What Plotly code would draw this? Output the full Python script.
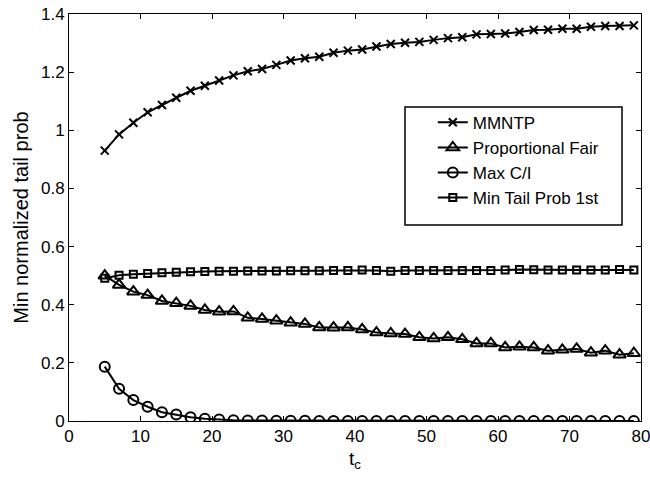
import plotly.graph_objects as go

t_c = list(range(5, 80, 2))

mmntp = [0.930, 0.986, 1.026, 1.062, 1.087, 1.112, 1.136, 1.153, 1.171, 1.189,
         1.203, 1.211, 1.225, 1.240, 1.248, 1.253, 1.267, 1.274, 1.278, 1.288,
         1.297, 1.301, 1.304, 1.311, 1.317, 1.320, 1.330, 1.331, 1.333, 1.338,
         1.345, 1.346, 1.349, 1.349, 1.356, 1.359, 1.359, 1.361]

prop_fair = [0.500, 0.468, 0.445, 0.433, 0.413, 0.405, 0.396, 0.382, 0.376, 0.377,
             0.355, 0.351, 0.345, 0.338, 0.334, 0.322, 0.321, 0.322, 0.315, 0.304,
             0.301, 0.299, 0.288, 0.284, 0.288, 0.281, 0.267, 0.267, 0.253, 0.255,
             0.253, 0.242, 0.245, 0.248, 0.235, 0.242, 0.228, 0.233]

max_ci = [0.187, 0.111, 0.072, 0.049, 0.030, 0.022, 0.013, 0.008, 0.005, 0.003,
          0.002, 0.002, 0.001, 0.001, 0.001, 0.0, 0.0, 0.0, 0.0, 0.0,
          0.0, 0.0, 0.0, 0.0, 0.0, 0.0, 0.0, 0.0, 0.0, 0.0,
          0.0, 0.0, 0.0, 0.0, 0.0, 0.0, 0.0, 0.0]

min_tail = [0.491, 0.501, 0.505, 0.507, 0.510, 0.512, 0.513, 0.514, 0.515, 0.515,
            0.516, 0.516, 0.516, 0.517, 0.517, 0.517, 0.518, 0.518, 0.519, 0.518,
            0.515, 0.518, 0.518, 0.518, 0.518, 0.518, 0.518, 0.518, 0.519, 0.521,
            0.520, 0.519, 0.519, 0.519, 0.519, 0.519, 0.521, 0.519]

series = [
    ("MMNTP", mmntp, "x-thin-open", 8),
    ("Proportional Fair", prop_fair, "triangle-up-open", 11),
    ("Max C/I", max_ci, "circle-open", 10),
    ("Min Tail Prob 1st", min_tail, "square-open", 7),
]

FONT = "Liberation Sans, Arial, Helvetica"

fig = go.Figure()
for name, ys, sym, sz in series:
    fig.add_trace(go.Scatter(
        x=t_c, y=ys, name=name, mode="lines+markers",
        line=dict(color="black", width=2),
        marker=dict(symbol=sym, size=sz, color="black",
                    line=dict(color="black", width=2)),
    ))

axis_common = dict(
    showgrid=False, zeroline=False, showline=True, linecolor="black",
    linewidth=1, mirror="ticks", ticks="inside", ticklen=5,
    tickcolor="black", automargin=False, ticklabeloverflow="allow",
    tickfont=dict(family=FONT, size=17, color="black"),
)

# legend frame (drawn as a shape so its size matches the reference)
fig.add_shape(type="rect", xref="paper", yref="paper",
              x0=0.5874, x1=0.9668, y0=0.4816, y1=0.7715,
              line=dict(color="black", width=1.5), fillcolor="white",
              layer="below")

fig.update_layout(
    width=650, height=477,
    margin=dict(l=69, r=9, t=14, b=56),
    paper_bgcolor="white", plot_bgcolor="white",
    font=dict(family=FONT, size=17, color="black"),
    xaxis=dict(range=[0, 80], dtick=10, tick0=0,
               title=dict(text="t<sub>c</sub>", font=dict(size=19), standoff=6),
               **axis_common),
    yaxis=dict(range=[0, 1.4], dtick=0.2, tick0=0,
               title=dict(text="Min normalized tail prob", font=dict(size=20), standoff=6),
               **axis_common),
    legend=dict(x=0.636, y=0.777, xanchor="left", yanchor="top",
                borderwidth=0, bgcolor="rgba(0,0,0,0)",
                font=dict(family=FONT, size=17), tracegroupgap=0),
    showlegend=True,
)

fig.write_html(
    "out.html",
    config={"displayModeBar": False},
    post_script="document.body.style.margin='0';document.body.style.overflow='hidden';",
)
